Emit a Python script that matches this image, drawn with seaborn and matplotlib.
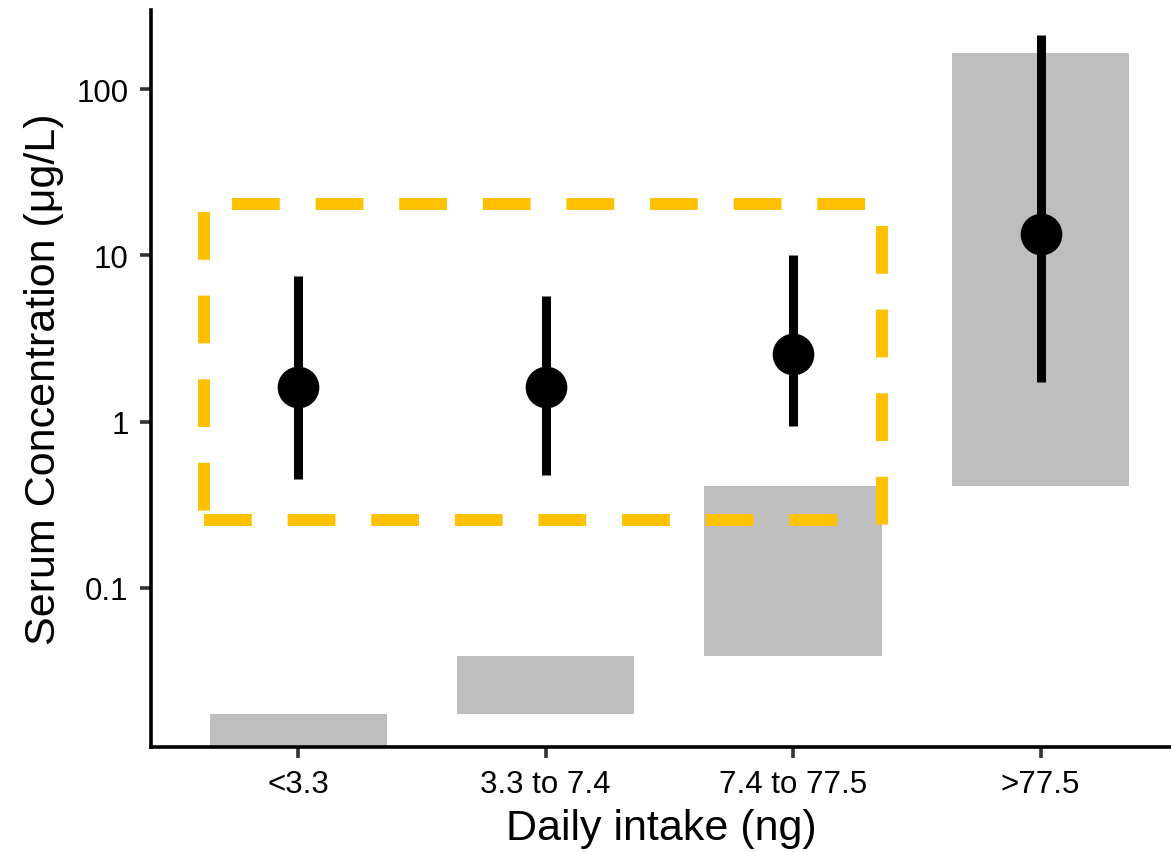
import numpy as np
import pandas as pd
import matplotlib
matplotlib.use('Agg')
import matplotlib.pyplot as plt
import seaborn as sns

######### DATA #########
categories = ['<3.3', '3.3 to 7.4', '7.4 to 77.5', '>77.5']
band_low = [0.005, 0.0174, 0.039, 0.409]     # grey band = expected range from intake
band_high = [0.0174, 0.039, 0.409, 164]
median = [1.62, 1.62, 2.55, 13.4]             # measured serum concentration
ci_low = [0.452, 0.478, 0.946, 1.74]
ci_high = [7.55, 5.70, 10.06, 211]

yticks = [0.1, 1, 10, 100]
ytick_labels = ['0.1', '1', '10', '100']

# highlight box, drawn as four separate dashed strokes (x in category units)
box_top = ([-0.268, 2.298], [20.4, 20.4])
box_left = ([-0.381, -0.381], [18.2, 0.286])
box_bottom = ([-0.381, 2.193], [0.2564, 0.2564])
box_right = ([2.359, 2.359], [15.0, 0.236])

######### STYLE #########
sns.set_theme(style='ticks')
plt.rcParams['font.family'] = ['Liberation Sans', 'DejaVu Sans']

df = pd.DataFrame({'cat': categories, 'pos': np.arange(len(categories)),
                   'lo': band_low, 'hi': band_high, 'med': median,
                   'ci_lo': ci_low, 'ci_hi': ci_high})

fig = plt.figure(figsize=(11.71, 8.53), dpi=100)
ax = fig.add_axes([151 / 1171, (853 - 748) / 853, (1171 - 151) / 1171, (748 - 11) / 853])

# grey floating bars
ax.bar(df['pos'], df['hi'] - df['lo'], bottom=df['lo'], width=0.717,
       color='#BEBEBE', linewidth=0, zorder=1)

# intervals + medians
ax.vlines(df['pos'], df['ci_lo'], df['ci_hi'], color='black', linewidth=6.5, zorder=3)
sns.scatterplot(data=df, x='pos', y='med', ax=ax, color='black', s=900,
                linewidth=0, zorder=4, legend=False)

# dashed highlight box
for seg in [box_top, box_left, box_bottom, box_right]:
    ax.plot(seg[0], seg[1], color='#FFC000', linewidth=8.6,
            linestyle=(0, (4, 3)), dash_capstyle='butt', zorder=5)

ax.set_yscale('log')
ax.set_ylim(0.01106, 299)
ax.set_xlim(-0.5954, 3.527)
ax.set_yticks(yticks)
ax.set_yticklabels(ytick_labels)
ax.yaxis.set_minor_locator(matplotlib.ticker.NullLocator())
ax.set_xticks(df['pos'])
ax.set_xticklabels(categories)

ax.tick_params(axis='both', length=7.6, width=2.6, color='#333333',
               labelsize=22.5, labelcolor='black')
ax.tick_params(axis='x', pad=8.5)
ax.tick_params(axis='y', pad=8.5)

for side in ['top', 'right']:
    ax.spines[side].set_visible(False)
for side in ['left', 'bottom']:
    ax.spines[side].set_linewidth(2.6)
    ax.spines[side].set_color('black')

ax.set_xlabel('Daily intake (ng)', fontsize=31, labelpad=6, color='black')
ax.set_ylabel('Serum Concentration (μg/L)', fontsize=31, labelpad=9, color='black')

fig.savefig('out.png', dpi=100)
